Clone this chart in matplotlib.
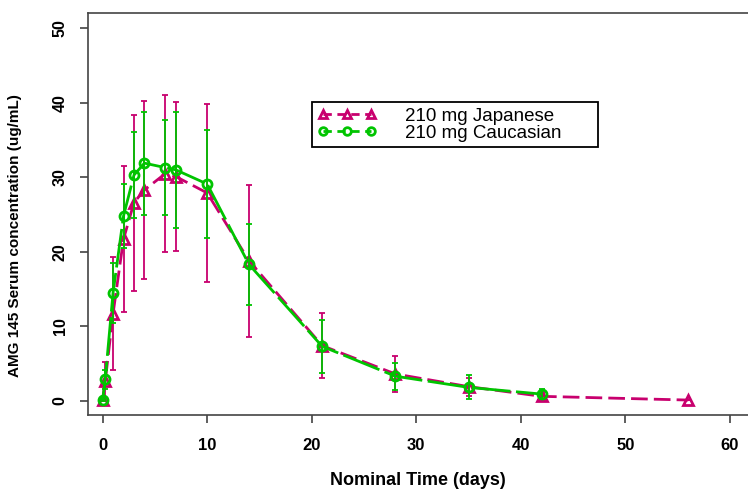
import matplotlib
matplotlib.use("Agg")
import matplotlib.pyplot as plt
from matplotlib import font_manager as fm
from matplotlib.lines import Line2D
import numpy as np

# ---------------- data ----------------
time_jp = [0, 0.25, 1, 2, 3, 4, 6, 7, 10, 14, 21, 28, 35, 42, 56]
mean_jp = [0.1, 2.6, 11.7, 21.7, 26.6, 28.3, 30.5, 30.1, 27.9, 18.8, 7.4, 3.6, 1.9, 0.6, 0.1]
sd_jp   = [0.1, 2.6, 7.6, 9.8, 11.8, 12.0, 10.5, 10.0, 11.9, 10.2, 4.4, 2.4, 1.2, 0.5, 0.0]

time_ca = [0, 0.25, 1, 2, 3, 4, 6, 7, 10, 14, 21, 28, 35, 42]
mean_ca = [0.1, 2.9, 14.5, 24.8, 30.3, 31.9, 31.3, 31.0, 29.1, 18.3, 7.3, 3.3, 1.8, 0.9]
sd_ca   = [0.1, 1.3, 4.0, 4.35, 5.8, 6.9, 6.35, 7.75, 7.25, 5.45, 3.55, 1.8, 1.6, 0.65]

label_jp = "210 mg Japanese"
label_ca = "210 mg Caucasian"
xlabel = "Nominal Time (days)"
ylabel = "AMG 145 Serum concentration (ug/mL)"
xticks = [0, 10, 20, 30, 40, 50, 60]
yticks = [0, 10, 20, 30, 40, 50]

# ---------------- style ----------------
names = {f.name for f in fm.fontManager.ttflist}
narrow = "Liberation Sans Narrow" if "Liberation Sans Narrow" in names else "Liberation Sans"
plt.rcParams['font.family'] = ['Liberation Sans', 'DejaVu Sans']

c_jp = '#C8006E'
c_ca = '#00C400'

W, H = 748, 496
fig = plt.figure(figsize=(W / 100, H / 100), dpi=100)
ax = fig.add_axes([88 / W, 1 - 415 / H, (W - 88) / W, (415 - 13) / H])

# Japanese first (underneath)
ax.errorbar(time_jp, mean_jp, yerr=sd_jp, fmt='none', ecolor=c_jp, elinewidth=1.3,
            capsize=2.5, capthick=1.3, zorder=2)
ax.plot(time_jp, mean_jp, color=c_jp, lw=2.0, dashes=(6, 2.2), marker='^',
        markersize=7, markerfacecolor='none', markeredgecolor=c_jp, markeredgewidth=2.0,
        zorder=3)
# Caucasian on top
ax.errorbar(time_ca, mean_ca, yerr=sd_ca, fmt='none', ecolor=c_ca, elinewidth=1.3,
            capsize=2.5, capthick=1.3, zorder=4)
ax.plot(time_ca, mean_ca, color=c_ca, lw=2.0, dashes=(14, 2), marker='o',
        markersize=6.5, markerfacecolor='none', markeredgecolor=c_ca, markeredgewidth=2.0,
        zorder=5)

# axes limits: x 0 at px 102.6, 10.457 px/day ; y 0 at px 400.8, 7.45 px/unit
ax.set_xlim((88 - 102.6) / 10.457, (W - 102.6) / 10.457)
ax.set_ylim((400.8 - 415) / 7.45, (400.8 - 13) / 7.45)

ax.set_xticks(xticks)
ax.set_yticks(yticks)
ax.set_xticklabels([str(v) for v in xticks], fontsize=12, fontweight='bold', family=narrow)
ax.set_yticklabels([str(v) for v in yticks], fontsize=11.5, fontweight='bold',
                   rotation=90, va='center')
ax.tick_params(axis='both', direction='out', length=5.5, width=1.1, color='#333333')
ax.tick_params(axis='x', pad=11)
ax.tick_params(axis='y', pad=9)

for s in ['left', 'bottom', 'top']:
    ax.spines[s].set_color('#444444')
    ax.spines[s].set_linewidth(1.2)
ax.spines['right'].set_visible(False)

ax.set_xlabel(xlabel, fontsize=13, fontweight='bold', family=narrow, labelpad=14)
ax.set_ylabel(ylabel, fontsize=11, fontweight='bold')
ax.yaxis.set_label_coords((22 - 88) / (W - 88), (415 - 236) / (415 - 13))

handles = [
    Line2D([], [], color=c_jp, lw=2.0, dashes=(3, 2), marker='^', markersize=6,
           markerfacecolor='none', markeredgecolor=c_jp, markeredgewidth=2.0),
    Line2D([], [], color=c_ca, lw=2.0, dashes=(3, 2), marker='o', markersize=5.5,
           markerfacecolor='none', markeredgecolor=c_ca, markeredgewidth=2.0),
]
x0, y0, x1 = 311.7, 102.3, 598
leg = ax.legend(handles, [label_jp, label_ca], loc='upper left', mode='expand',
                bbox_to_anchor=(x0 / W, 1 - y0 / H - 0.1, (x1 - x0) / W, 0.1),
                bbox_transform=fig.transFigure,
                numpoints=3, handlelength=3.2, handletextpad=1.5, labelspacing=0.0,
                borderpad=0.28, borderaxespad=0, fontsize=13.5, frameon=True,
                fancybox=False, framealpha=1, edgecolor='black')
leg.get_frame().set_linewidth(1.3)

fig.savefig("out.png", dpi=100)
